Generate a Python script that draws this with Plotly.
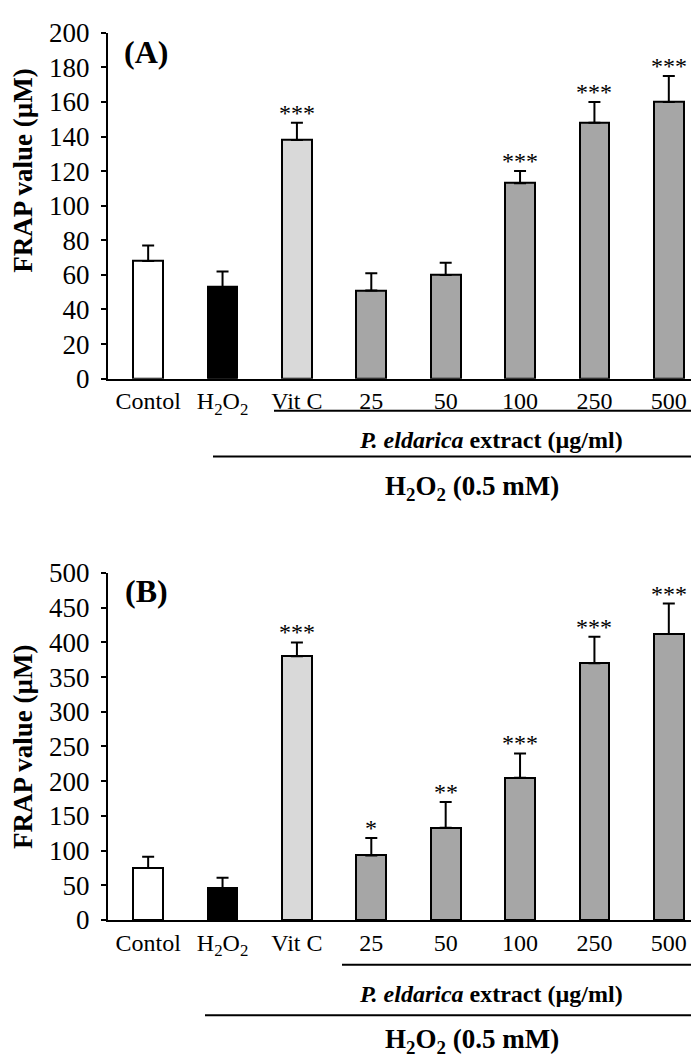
import plotly.graph_objects as go

# ----------------------------
# DATA
# ----------------------------
groups = ["Contol", "H<sub>2</sub>O<sub>2</sub>", "Vit C", "25", "50", "100", "250", "500"]
bar_colors = ["#ffffff", "#000000", "#d9d9d9", "#a6a6a6", "#a6a6a6", "#a6a6a6", "#a6a6a6", "#a6a6a6"]

frap_a = [68, 53, 138, 51, 60, 113, 148, 160]
frap_a_err = [9, 9, 10, 10, 7, 7, 12, 15]
stars_a = ["", "", "***", "", "", "***", "***", "***"]

frap_b = [75, 46, 380, 93, 133, 205, 370, 412]
frap_b_err = [16, 15, 20, 25, 37, 35, 38, 44]
stars_b = ["", "", "***", "*", "**", "***", "***", "***"]

W, H = 699, 1063
FONT = "Liberation Serif, Times New Roman, serif"


def px_x(v):
    return v / W


def px_y(v):
    return 1 - v / H


fig = go.Figure()

panels = [
    dict(vals=frap_a, err=frap_a_err, stars=stars_a, xa="x", ya="y",
         ymax=200, dtick=20, top=10, bottom=366, tag="(A)", tag_y=30,
         title_y=152, line1=(266, 399), text1=429, line2=(205, 446), text2=478),
    dict(vals=frap_b, err=frap_b_err, stars=stars_b, xa="x2", ya="y2",
         ymax=500, dtick=50, top=566, bottom=923, tag="(B)", tag_y=585,
         title_y=745, line1=(334, 969), text1=999, line2=(197, 1021), text2=1048),
]

annotations = []
shapes = []
idx = list(range(len(groups)))

for i, p in enumerate(panels):
    fig.add_trace(go.Bar(
        x=idx,
        y=p["vals"],
        xaxis=p["xa"],
        yaxis=p["ya"],
        width=0.4,
        marker=dict(color=bar_colors, line=dict(color="black", width=2)),
        error_y=dict(type="data", symmetric=False, array=p["err"],
                     arrayminus=[0] * len(groups), color="black",
                     thickness=2, width=6),
        showlegend=False,
    ))

    # significance stars
    for k, v, e, s in zip(idx, p["vals"], p["err"], p["stars"]):
        if s:
            annotations.append(dict(
                x=k, y=v + e, xref=p["xa"], yref=p["ya"], text=s,
                showarrow=False, xanchor="center", yanchor="bottom", yshift=-5,
                font=dict(family=FONT, size=24, color="black"),
            ))

    common = dict(xref="paper", yref="paper", showarrow=False,
                  xanchor="center", yanchor="middle")

    # panel tag
    annotations.append(dict(
        x=px_x(138), y=px_y(p["tag_y"]), text="<b>" + p["tag"] + "</b>",
        font=dict(family=FONT, size=32, color="black"), **common,
    ))

    # y title
    annotations.append(dict(
        x=px_x(15), y=px_y(p["title_y"]), text="<b>FRAP value (µM)</b>",
        textangle=-90, font=dict(family=FONT, size=27, color="black"), **common,
    ))

    # group lines and labels
    for (x0, yl) in (p["line1"], p["line2"]):
        shapes.append(dict(type="line", xref="paper", yref="paper",
                           x0=px_x(x0), x1=px_x(698),
                           y0=px_y(yl), y1=px_y(yl),
                           line=dict(color="black", width=2)))
    annotations.append(dict(
        x=px_x(483), y=px_y(p["text1"]),
        text="<b><i>P. eldarica</i> extract (µg/ml)</b>",
        font=dict(family=FONT, size=24, color="black"), **common,
    ))
    annotations.append(dict(
        x=px_x(464), y=px_y(p["text2"]),
        text="<b>H<sub>2</sub>O<sub>2</sub> (0.5 mM)</b>",
        font=dict(family=FONT, size=27, color="black"), **common,
    ))

    axis_x = dict(
        domain=[px_x(100), px_x(698)],
        range=[-0.54, 7.5],
        tickmode="array", tickvals=idx, ticktext=groups,
        showline=True, linecolor="black", linewidth=2,
        ticks="", showgrid=False, zeroline=False,
        tickfont=dict(family=FONT, size=24, color="black"),
        anchor=p["ya"],
    )
    axis_y = dict(
        domain=[px_y(p["bottom"]), px_y(p["top"])],
        range=[0, p["ymax"]], dtick=p["dtick"],
        showline=True, linecolor="black", linewidth=2,
        ticks="outside", ticklen=5, tickwidth=2, tickcolor="black",
        ticklabelstandoff=6,
        showgrid=False, zeroline=False,
        tickfont=dict(family=FONT, size=27, color="black"),
        anchor=p["xa"],
    )
    suffix = "" if i == 0 else "2"
    fig.update_layout({"xaxis" + suffix: axis_x, "yaxis" + suffix: axis_y})

fig.update_layout(
    width=W,
    height=H,
    margin=dict(l=0, r=0, t=0, b=0),
    paper_bgcolor="white",
    plot_bgcolor="white",
    annotations=annotations,
    shapes=shapes,
    bargap=0,
)

fig.write_html("out.html")
